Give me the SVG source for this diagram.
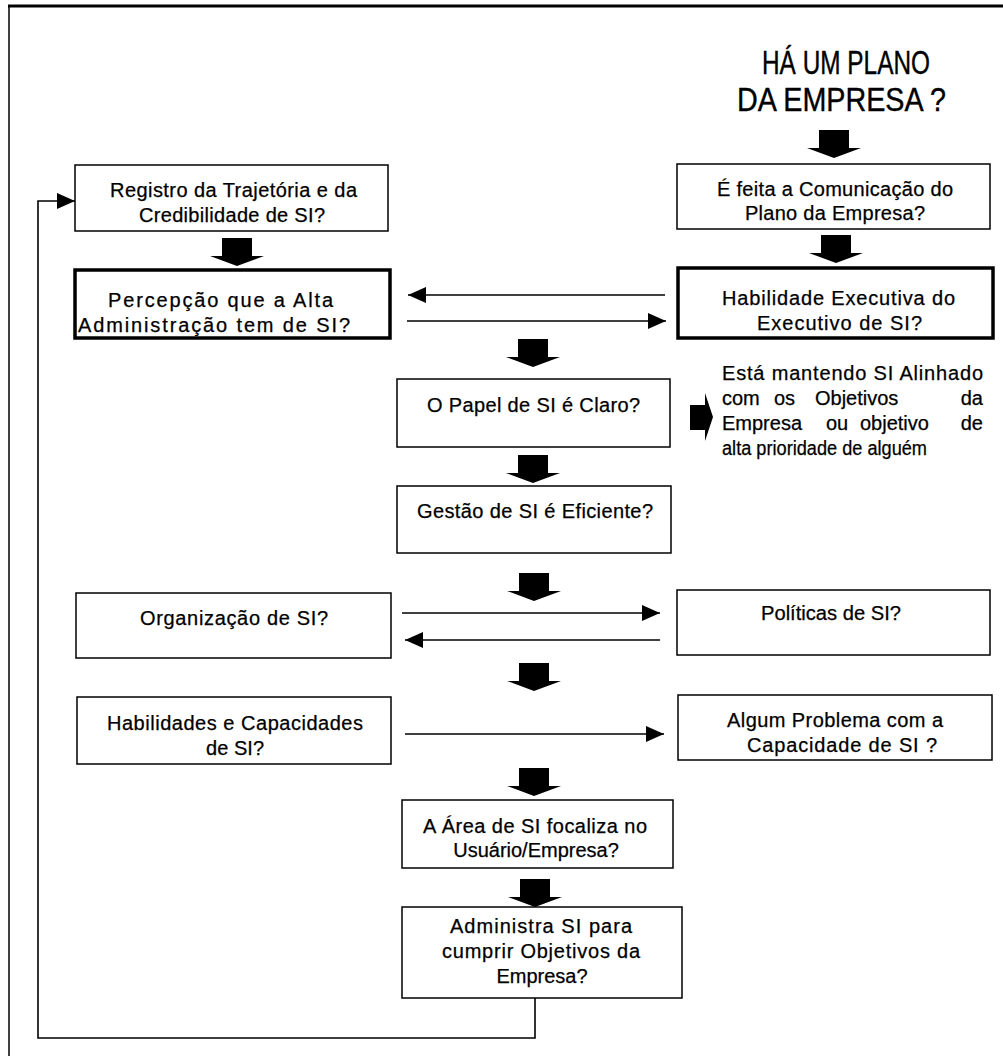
<svg xmlns="http://www.w3.org/2000/svg" xmlns:xlink="http://www.w3.org/1999/xlink" width="1003" height="1056" viewBox="0 0 1003 1056">
  <style>
    .box { fill: #ffffff; stroke: #000000; stroke-width: 1.5; }
    .box.strong { stroke-width: 3.5; }
    .t { font-family: "Liberation Sans", Arial, sans-serif; font-size: 20px; fill: #000000; stroke: #000000; stroke-width: 0.25; }
    .title { font-family: "Liberation Sans", Arial, sans-serif; font-size: 34px; fill: #000000; stroke: #000000; stroke-width: 0.4; }
    .side { font-family: "Liberation Sans", Arial, sans-serif; font-size: 20px; fill: #000000; stroke: #000000; stroke-width: 0.25; }
    .link { fill: none; stroke: #000000; stroke-width: 1.6; }
    .frame { fill: none; stroke: #000000; }
  </style>
  <defs>
    <!-- filled block arrow pointing down, origin at top centre -->
    <path id="down" d="M-15 0 H15 V18 H27 L0 28 L-27 18 H-15 Z" fill="#000000"/>
    <marker id="head" markerUnits="userSpaceOnUse" markerWidth="18" markerHeight="16" viewBox="0 0 18 16" refX="18" refY="8" orient="auto">
      <path d="M0 0 L18 8 L0 16 Z" fill="#000000"/>
    </marker>
  </defs>

  <rect width="1003" height="1056" fill="#ffffff"/>

  <!-- page frame -->
  <line class="frame" x1="8" y1="6" x2="1003" y2="6" stroke-width="3"/>
  <line class="frame" x1="9" y1="6" x2="9" y2="1056" stroke-width="1.5"/>

  <!-- title -->
  <g id="title">
    <text class="title" x="762" y="74" textLength="168" lengthAdjust="spacingAndGlyphs">HÁ UM PLANO</text>
    <text class="title" x="737" y="111" textLength="209" lengthAdjust="spacingAndGlyphs">DA EMPRESA ?</text>
  </g>

  <!-- connectors -->
  <g id="connectors">
    <use xlink:href="#down" x="834" y="130"/>
    <use xlink:href="#down" x="836" y="235"/>
    <use xlink:href="#down" x="237" y="238"/>
    <use xlink:href="#down" x="533" y="339"/>
    <use xlink:href="#down" x="533" y="455"/>
    <use xlink:href="#down" x="534" y="573"/>
    <use xlink:href="#down" x="534" y="663"/>
    <use xlink:href="#down" x="534" y="768"/>
    <use xlink:href="#down" x="535" y="879"/>

    <path class="link" d="M665 295 H408" marker-end="url(#head)"/>
    <path class="link" d="M407 321 H666" marker-end="url(#head)"/>
    <path class="link" d="M402 613 H660" marker-end="url(#head)"/>
    <path class="link" d="M660 640 H405" marker-end="url(#head)"/>
    <path class="link" d="M405 734 H664" marker-end="url(#head)"/>
    <path class="link" d="M535 998 V1038 H38 V201 H75" marker-end="url(#head)"/>

    <!-- side block arrow -->
    <path d="M690 405 H705 V393 L713 417 L705 441 V430 H690 Z" fill="#000000"/>
  </g>

  <g id="registro">
    <rect class="box" x="75" y="165" width="313" height="66"/>
    <text class="t" x="110" y="197" textLength="247">Registro da Trajetória e da</text>
    <text class="t" x="139" y="222" textLength="186">Credibilidade de SI?</text>
  </g>

  <g id="percepcao">
    <rect class="box strong" x="75" y="270" width="315" height="68"/>
    <text class="t" x="108" y="307" textLength="225">Percepção que a Alta</text>
    <text class="t" x="78" y="332" textLength="272">Administração tem de SI?</text>
  </g>

  <g id="comunicacao">
    <rect class="box" x="677" y="164" width="313" height="65"/>
    <text class="t" x="717" y="196" textLength="236">É feita a Comunicação do</text>
    <text class="t" x="745" y="220" textLength="180">Plano da Empresa?</text>
  </g>

  <g id="habilidade-executiva">
    <rect class="box strong" x="678" y="268" width="315" height="70"/>
    <text class="t" x="722" y="305" textLength="233">Habilidade Executiva do</text>
    <text class="t" x="757" y="330" textLength="165">Executivo de SI?</text>
  </g>

  <g id="papel">
    <rect class="box" x="397" y="379" width="273" height="68"/>
    <text class="t" x="427" y="412" textLength="213">O Papel de SI é Claro?</text>
  </g>

  <g id="alinhamento">
    <text class="side" x="722" y="380" textLength="261">Está mantendo SI Alinhado</text>
    <text class="side" x="722" y="405">com</text>
    <text class="side" x="774" y="405">os</text>
    <text class="side" x="815" y="405">Objetivos</text>
    <text class="side" x="983" y="405" text-anchor="end">da</text>
    <text class="side" x="722" y="430">Empresa</text>
    <text class="side" x="826" y="430">ou</text>
    <text class="side" x="860" y="430">objetivo</text>
    <text class="side" x="983" y="430" text-anchor="end">de</text>
    <text class="side" x="722" y="455" textLength="205" lengthAdjust="spacingAndGlyphs">alta prioridade de alguém</text>
  </g>

  <g id="gestao">
    <rect class="box" x="397" y="486" width="274" height="67"/>
    <text class="t" x="417" y="518" textLength="236">Gestão de SI é Eficiente?</text>
  </g>

  <g id="organizacao">
    <rect class="box" x="76" y="593" width="315" height="65"/>
    <text class="t" x="140" y="625" textLength="188">Organização de SI?</text>
  </g>

  <g id="politicas">
    <rect class="box" x="677" y="590" width="313" height="65"/>
    <text class="t" x="761" y="620" textLength="140" lengthAdjust="spacingAndGlyphs">Políticas de SI?</text>
  </g>

  <g id="habilidades-capacidades">
    <rect class="box" x="77" y="697" width="314" height="67"/>
    <text class="t" x="107" y="730" textLength="256">Habilidades e Capacidades</text>
    <text class="t" x="206" y="755" textLength="58">de SI?</text>
  </g>

  <g id="problema-capacidade">
    <rect class="box" x="678" y="695" width="314" height="65"/>
    <text class="t" x="727" y="727" textLength="216">Algum Problema com a</text>
    <text class="t" x="747" y="752" textLength="190">Capacidade de SI ?</text>
  </g>

  <g id="area-usuario">
    <rect class="box" x="402" y="800" width="271" height="68"/>
    <text class="t" x="423" y="833" textLength="224">A Área de SI focaliza no</text>
    <text class="t" x="536" y="857" text-anchor="middle">Usuário/Empresa?</text>
  </g>

  <g id="administra">
    <rect class="box" x="402" y="907" width="280" height="91"/>
    <text class="t" x="450" y="933" textLength="182">Administra SI para</text>
    <text class="t" x="442" y="958" textLength="198">cumprir Objetivos da</text>
    <text class="t" x="542" y="983" text-anchor="middle">Empresa?</text>
  </g>
</svg>
